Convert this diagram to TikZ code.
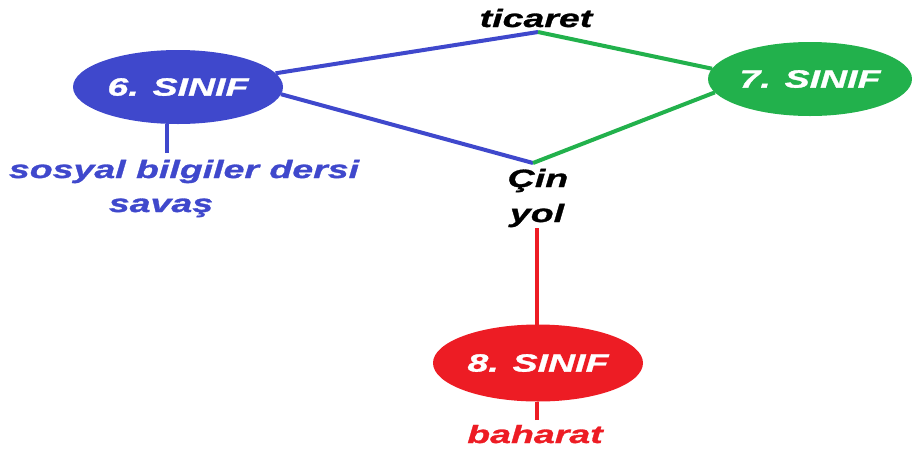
\documentclass[tikz,border=0pt]{standalone}
\usepackage{fontspec}
\setmainfont{Liberation Sans}[FakeStretch=1.5,FakeBold=1.2]
\usetikzlibrary{shapes.geometric}
\definecolor{pblue}{HTML}{3F48CC}
\definecolor{pgreen}{HTML}{22B14C}
\definecolor{pred}{HTML}{ED1C24}
\begin{document}
\begin{tikzpicture}[x=1pt,y=-1pt,
  oval/.style={ellipse,inner sep=0pt,outer sep=0pt,minimum width=210pt,minimum height=74pt,text=white,font=\fontsize{25}{30}\selectfont\bfseries\itshape},
  word/.style={anchor=base,inner sep=0pt,font=\fontsize{25}{30}\selectfont\bfseries\itshape},
  conn/.style={line width=4pt}]
\useasboundingbox (0,0) rectangle (912,448);
\node[oval,fill=pblue] (e6) at (178,87) {6. SINIF};
\node[oval,fill=pgreen,minimum width=204pt] (e7) at (810,79) {7. SINIF};
\node[oval,fill=pred,minimum height=77pt] (e8) at (538,363) {8. SINIF};
\coordinate (t) at (538,32);
\coordinate (b) at (533,163);
\coordinate (s6) at (167,153);
\coordinate (r1) at (537,228);
\coordinate (r2) at (537,420);
\draw[conn,pblue] (e6.8) -- (t);
\draw[conn,pgreen] (t) -- (e7.174);
\draw[conn,pblue] (e6.356) -- (b);
\draw[conn,pgreen] (b) -- (e7.188);
\draw[conn,pblue] (s6) -- (s6 |- e6.south);
\draw[conn,pred] (r1) -- (r1 |- e8.north);
\draw[conn,pred] (r2) -- (r2 |- e8.south);
\node[word] (tic) at (536,27) {ticaret};
\node[word] (cin) at (538,187) {Çin};
\node[word] (yol) at (537,222) {yol};
\node[word,text=pblue] (sos) at (184,178) {sosyal bilgiler dersi};
\node[word,text=pblue] (sav) at (161,212) {savaş};
\node[word,text=pred] (bah) at (535,443) {baharat};
\end{tikzpicture}
\end{document}
